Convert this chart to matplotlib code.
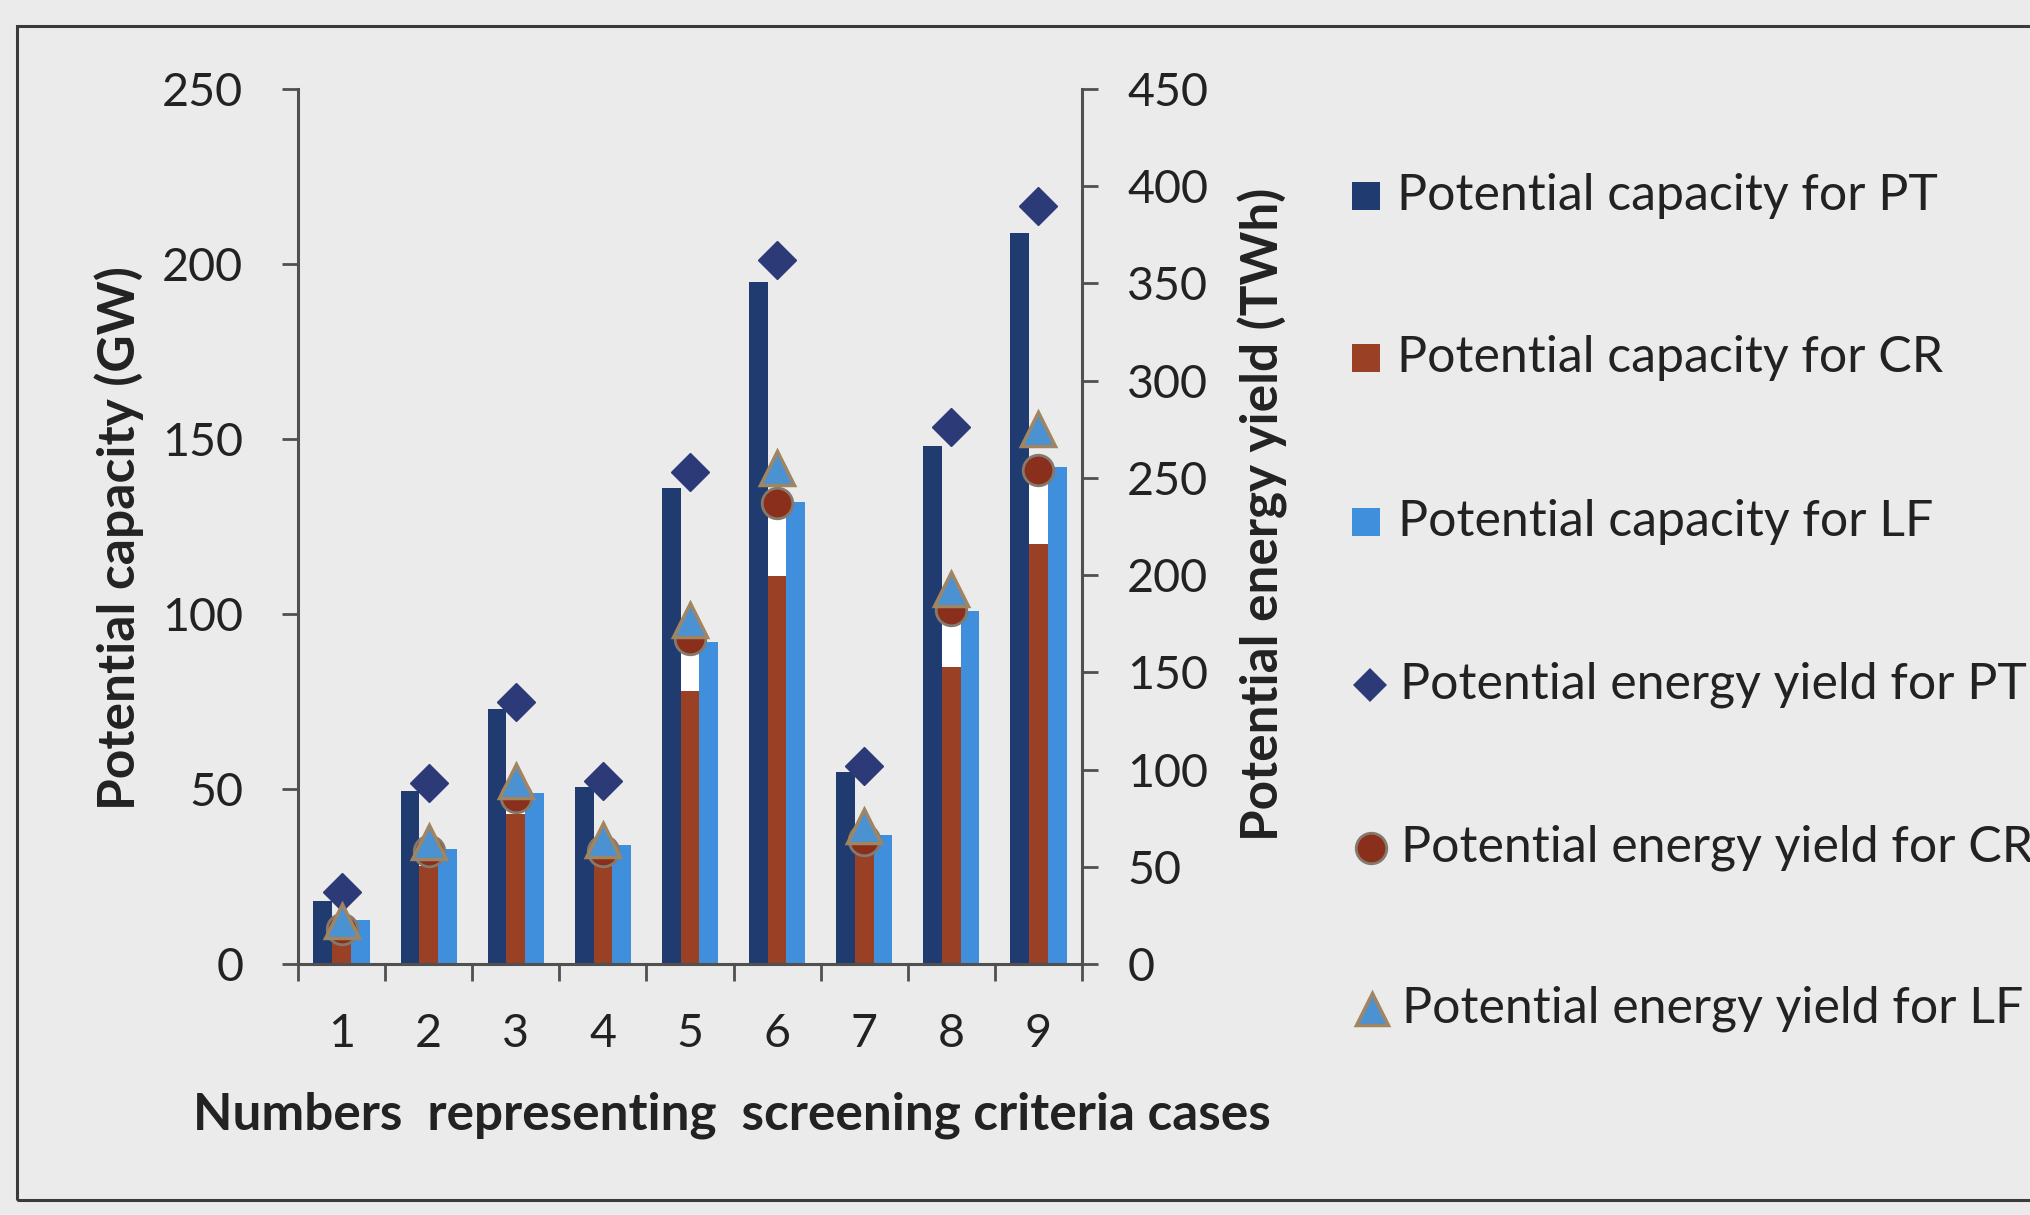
import matplotlib
matplotlib.use('Agg')
import matplotlib.pyplot as plt
from matplotlib.lines import Line2D
from matplotlib.patches import Rectangle
import numpy as np

plt.rcParams['font.family'] = ['Lato', 'DejaVu Sans']

# ---------------- data ----------------
cases = ['1', '2', '3', '4', '5', '6', '7', '8', '9']
cap_PT = [18, 49.5, 73, 50.5, 136, 195, 55, 148, 209]      # GW
cap_CR = [8, 28, 43, 30, 78, 111, 33, 85, 120]             # GW
cap_LF = [12.5, 33, 49, 34, 92, 132, 37, 101, 142]         # GW
yield_PT = [37, 93, 135, 94, 253, 362, 102, 276, 390]      # TWh
yield_CR = [18, 58, 86, 58, 167, 237, 64, 182, 254]        # TWh
yield_LF = [22, 63, 94, 64, 177, 255, 71, 193, 275]        # TWh
left_ticks = [0, 50, 100, 150, 200, 250]
right_ticks = [0, 50, 100, 150, 200, 250, 300, 350, 400, 450]
labels = ['Potential capacity for PT', 'Potential capacity for CR',
          'Potential capacity for LF', 'Potential energy yield for PT',
          'Potential energy yield for CR', 'Potential energy yield for LF']

# ---------------- style ----------------
W, H = 2031, 1215
BG = '#ebebeb'
TXT = '#222222'
SPINE = '#505050'
C_PT = '#1f3b6f'
C_CR = '#9a4024'
C_LF = '#3f8fdc'
M_PT = '#2d3a78'
M_CR_FACE, M_CR_EDGE = '#8a2f1c', '#85796b'
M_LF_FACE, M_LF_EDGE = '#4b92d3', '#a08562'

fig = plt.figure(figsize=(W / 100, H / 100), dpi=100, facecolor=BG)
renderer = fig.canvas.get_renderer()


def fit(text, target_px, weight='normal'):
    t = fig.text(0, 0, text, fontsize=20, fontweight=weight)
    w = t.get_window_extent(renderer).width
    t.remove()
    return 20 * target_px / w


fs_tick = fit('250', 81)
fs_leg = fit(labels[0], 541)
fs_xlab = fit('Numbers  representing  screening criteria cases', 1079, 'bold')
fs_ylab = fit('Potential capacity (GW)', 544, 'bold')
fs_y2lab = fit('Potential energy yield (TWh)', 652, 'bold')

# photo frame
fig.add_artist(Rectangle((17 / W, 1 - 1200 / H), 1.2, (1200 - 26) / H,
                         transform=fig.transFigure, fill=False,
                         edgecolor='#3a3a3a', lw=2.2))

ax_l, ax_r, ax_t, ax_b = 298, 1082, 89, 964
ax = fig.add_axes([ax_l / W, 1 - ax_b / H, (ax_r - ax_l) / W, (ax_b - ax_t) / H])
ax.set_facecolor('none')
ax2 = ax.twinx()

x = np.arange(len(cases))
bw = 0.215
ax.bar(x - bw, cap_PT, bw, color=C_PT, zorder=2)
ax.bar(x, cap_CR, bw, color=C_CR, zorder=2)
ax.bar(x + bw, cap_LF, bw, color=C_LF, zorder=2)

ax.set_xlim(-0.5, len(cases) - 0.5)
ax.set_ylim(0, 250)
ax2.set_ylim(0, 450)

# white gap between CR bar top and the CR energy marker (as seen in the source)
ratio = ax.get_ylim()[1] / ax2.get_ylim()[1]
gap = [max(0.0, e * ratio - c) for e, c in zip(yield_CR, cap_CR)]
ax.bar(x, gap, bw, bottom=cap_CR, color='white', zorder=2)

ax2.plot(x, yield_PT, linestyle='none', marker='D', ms=19, color=M_PT,
         markeredgecolor=M_PT, zorder=3)
ax2.plot(x, yield_CR, linestyle='none', marker='o', ms=22, markerfacecolor=M_CR_FACE,
         markeredgecolor=M_CR_EDGE, markeredgewidth=2, zorder=4)
ax2.plot(x, yield_LF, linestyle='none', marker='^', ms=24, markerfacecolor=M_LF_FACE,
         markeredgecolor=M_LF_EDGE, markeredgewidth=2.5, zorder=5)

# axes, ticks
for a in (ax, ax2):
    a.spines['top'].set_visible(False)
ax.spines['right'].set_visible(False)
ax2.spines['left'].set_visible(False)
ax2.spines['bottom'].set_visible(False)
for s in ('left', 'bottom'):
    ax.spines[s].set_color(SPINE)
    ax.spines[s].set_linewidth(2.2)
ax2.spines['right'].set_color(SPINE)
ax2.spines['right'].set_linewidth(2.2)

ax.set_xticks(np.arange(-0.5, len(cases), 1.0))
ax.set_xticklabels([])
ax.set_xticks(x, minor=True)
ax.set_xticklabels(cases, minor=True)
ax.tick_params(axis='x', which='major', direction='out', length=12, width=2, color=SPINE)
ax.tick_params(axis='x', which='minor', length=0, pad=35, labelsize=fs_tick, labelcolor=TXT)

ax.set_yticks(left_ticks)
ax.tick_params(axis='y', direction='out', length=11.5, width=2, color=SPINE,
               pad=28, labelsize=fs_tick, labelcolor=TXT)
ax2.set_yticks(right_ticks)
ax2.tick_params(axis='y', direction='out', length=11.5, width=2, color=SPINE,
                pad=21, labelsize=fs_tick, labelcolor=TXT)

ax.set_xlabel('Numbers  representing  screening criteria cases', fontsize=fs_xlab,
              fontweight='bold', color=TXT)
ax.xaxis.set_label_coords((732 - ax_l) / (ax_r - ax_l), (ax_b - 1115) / (ax_b - ax_t))
ax.xaxis.label.set_va('center')

ax.set_ylabel('Potential capacity (GW)', fontsize=fs_ylab, fontweight='bold', color=TXT)
ax.yaxis.set_label_coords((119 - ax_l) / (ax_r - ax_l), (ax_b - 538) / (ax_b - ax_t))
ax.yaxis.label.set_va('center')

ax2.set_ylabel('Potential energy yield (TWh)', fontsize=fs_y2lab, fontweight='bold',
               color=TXT, rotation=90)
ax2.yaxis.set_label_coords((1263 - ax_l) / (ax_r - ax_l), (ax_b - 514) / (ax_b - ax_t))
ax2.yaxis.label.set_va('center')

# ---------------- legend (manual, right side) ----------------
row_y = [196, 358, 522, 685, 848, 1009]
handles = [
    dict(marker='s', ms=20, mfc=C_PT, mec=C_PT, mew=0, hx=1366),
    dict(marker='s', ms=20, mfc=C_CR, mec=C_CR, mew=0, hx=1366),
    dict(marker='s', ms=20, mfc=C_LF, mec=C_LF, mew=0, hx=1366),
    dict(marker='D', ms=17, mfc=M_PT, mec=M_PT, mew=0, hx=1370),
    dict(marker='o', ms=22, mfc=M_CR_FACE, mec=M_CR_EDGE, mew=2, hx=1371),
    dict(marker='^', ms=23, mfc=M_LF_FACE, mec=M_LF_EDGE, mew=2.5, hx=1372),
]
text_x = [1397, 1397, 1398, 1400, 1401, 1402]
for lab, yy, h, tx in zip(labels, row_y, handles, text_x):
    fig.add_artist(Line2D([h['hx'] / W], [1 - yy / H], transform=fig.transFigure,
                          linestyle='none', marker=h['marker'], markersize=h['ms'],
                          markerfacecolor=h['mfc'], markeredgecolor=h['mec'],
                          markeredgewidth=h['mew']))
    fig.text(tx / W, 1 - yy / H, lab, fontsize=fs_leg, color=TXT, ha='left', va='center')

fig.savefig('out.png', dpi=100, facecolor=BG)
